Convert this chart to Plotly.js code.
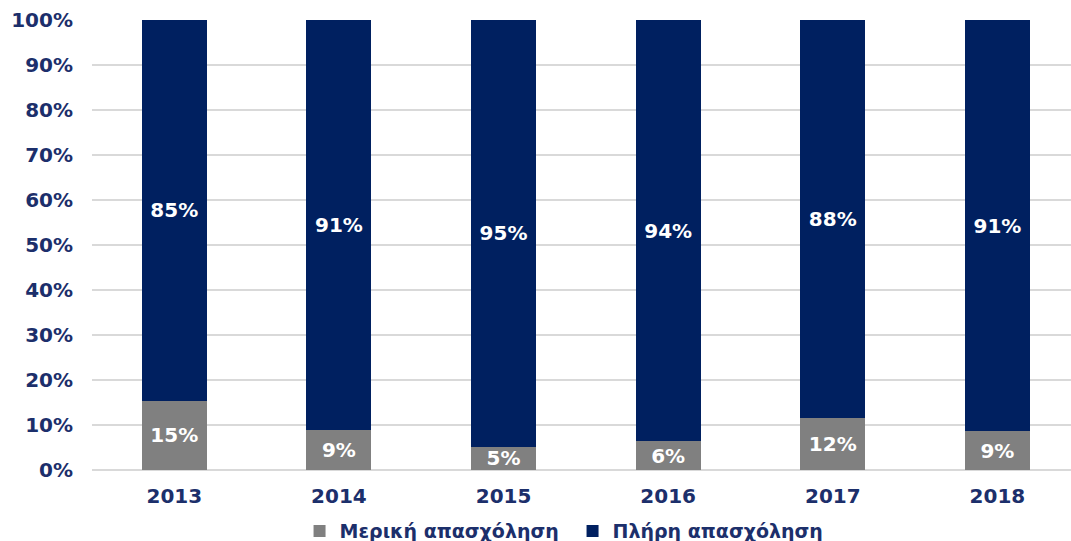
<!DOCTYPE html>
<html>
<head>
<meta charset="utf-8">
<script src="https://cdn.plot.ly/plotly-3.0.1.min.js"></script>
<style>html,body{margin:0;padding:0;background:#fff;}#chart{width:1071px;height:541px;}</style>
</head>
<body>
<div id="chart"></div>
<script>
const years = ['2013', '2014', '2015', '2016', '2017', '2018'];
const partTime = [15.4, 8.8, 5.2, 6.4, 11.6, 8.6];
const fullTime = [84.6, 91.2, 94.8, 93.6, 88.4, 91.4];
const partTimeName = 'Μερική απασχόληση';
const fullTimeName = 'Πλήρη απασχόληση';
const yTickVals = [0, 10, 20, 30, 40, 50, 60, 70, 80, 90, 100];

const FONT = 'DejaVu Sans, Verdana, sans-serif';
const NAVY = '#002060';
const GRAY = '#808080';
const TEXTC = '#1c2f6b';

const fmt = v => Math.round(v) + '%';

const traces = [
  {
    type: 'bar', name: partTimeName, x: years, y: partTime,
    marker: {color: GRAY},
    text: partTime.map(fmt), textposition: 'inside', insidetextanchor: 'middle',
    textangle: 0, constraintext: 'none',
    textfont: {family: FONT, size: 20, color: '#ffffff', weight: 'bold'},
    hoverinfo: 'skip'
  },
  {
    type: 'bar', name: fullTimeName, x: years, y: fullTime,
    marker: {color: NAVY},
    text: fullTime.map(fmt), textposition: 'inside', insidetextanchor: 'middle',
    textangle: 0, constraintext: 'none',
    textfont: {family: FONT, size: 20, color: '#ffffff', weight: 'bold'},
    hoverinfo: 'skip'
  }
];

const layout = {
  width: 1071, height: 541,
  margin: {l: 92, r: 0, t: 20, b: 71, pad: 0, autoexpand: false},
  paper_bgcolor: '#ffffff', plot_bgcolor: '#ffffff',
  barmode: 'stack',
  bargap: 0.605,
  showlegend: true,
  legend: {
    orientation: 'h', x: 0.212, xanchor: 'left', y: -0.136, yanchor: 'middle',
    font: {family: FONT, size: 19, color: TEXTC, weight: 'bold'},
    traceorder: 'normal', entrywidth: 228, entrywidthmode: 'pixels',
    itemclick: false, itemdoubleclick: false
  },
  xaxis: {
    type: 'category', range: [-0.5, 5.447],
    showgrid: false, zeroline: false, showline: false,
    ticks: '', ticklabelstandoff: 12,
    tickfont: {family: FONT, size: 20, color: TEXTC, weight: 'bold'}
  },
  yaxis: {
    range: [0, 100], tickvals: yTickVals, ticktext: yTickVals.map(v => v + '%'),
    showgrid: true, gridcolor: '#d9d9d9', gridwidth: 2,
    zeroline: true, zerolinecolor: '#d9d9d9', zerolinewidth: 2,
    showline: false, ticks: '', ticklabelstandoff: 18,
    tickfont: {family: FONT, size: 20, color: TEXTC, weight: 'bold'}
  },
  font: {family: FONT}
};

Plotly.newPlot('chart', traces, layout, {displayModeBar: false, staticPlot: true});
</script>
</body>
</html>
